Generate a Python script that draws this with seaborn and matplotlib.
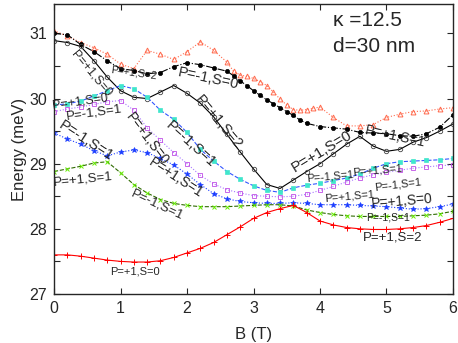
import numpy as np
import pandas as pd
import seaborn as sns
import matplotlib.pyplot as plt
from matplotlib.ticker import MultipleLocator

# magnetic field grid (T)
b_grid = [0.0, 0.2, 0.4, 0.6, 0.8, 1.0, 1.2, 1.4, 1.6, 1.8, 2.0, 2.2, 2.4, 2.6, 2.8, 3.0,
          3.2, 3.4, 3.6, 3.8, 4.0, 4.2, 4.4, 4.6, 4.8, 5.0, 5.2, 5.4, 5.6, 5.8, 6.0]
b_black_fill = [0.0, 0.2, 0.4, 0.6, 0.8, 1.0, 1.2, 1.4, 1.6, 1.8, 2.0, 2.2, 2.4, 2.6, 2.7, 2.8,
                2.9, 3.0, 3.1, 3.2, 3.3, 3.4, 3.5, 3.6, 3.7, 3.8, 4.0, 4.2, 4.4, 4.6, 4.8, 5.0,
                5.2, 5.4, 5.6, 5.8, 6.0]
b_tri = [0.0, 0.2, 0.4, 0.6, 0.8, 1.0, 1.2, 1.4, 1.6, 1.8, 2.0, 2.2, 2.4, 2.6, 2.7, 2.8, 2.9,
         3.0, 3.1, 3.2, 3.3, 3.4, 3.5, 3.6, 3.7, 3.8, 3.9, 4.0, 4.2, 4.4, 4.6, 4.8, 5.0, 5.2,
         5.4, 5.6, 5.8, 6.0]

# energies (meV)
e_red_plus = [27.60, 27.60, 27.58, 27.55, 27.52, 27.50, 27.49, 27.49, 27.51, 27.56, 27.63,
              27.70, 27.79, 27.91, 28.03, 28.16, 28.25, 28.31, 28.36, 28.25, 28.12, 28.06,
              28.02, 28.00, 27.99, 27.99, 28.00, 28.02, 28.05, 28.10, 28.16]
e_green_x = [28.88, 28.92, 28.96, 29.01, 29.03, 28.86, 28.68, 28.55, 28.45, 28.39, 28.36,
             28.34, 28.34, 28.34, 28.35, 28.36, 28.37, 28.37, 28.35, 28.29, 28.25, 28.22,
             28.20, 28.19, 28.19, 28.19, 28.19, 28.20, 28.21, 28.23, 28.27]
e_blue_star = [29.47, 29.38, 29.30, 29.20, 29.12, 29.18, 29.21, 29.17, 29.08, 28.98, 28.84,
               28.68, 28.54, 28.46, 28.42, 28.40, 28.39, 28.39, 28.40, 28.39, 28.37, 28.37,
               28.37, 28.36, 28.35, 28.34, 28.32, 28.30, 28.31, 28.34, 28.38]
e_violet_sq = [29.80, 29.84, 29.87, 29.91, 29.95, 29.97, 29.82, 29.55, 29.36, 29.17, 29.00,
               28.82, 28.69, 28.60, 28.55, 28.51, 28.50, 28.49, 28.50, 28.53, 28.59, 28.65,
               28.72, 28.78, 28.83, 28.87, 28.90, 28.93, 28.95, 28.97, 28.98]
e_cyan_sq = [29.90, 29.92, 29.96, 30.04, 30.12, 30.20, 30.15, 30.02, 29.82, 29.68, 29.48,
             29.22, 29.04, 28.88, 28.76, 28.66, 28.59, 28.56, 28.63, 28.67, 28.70, 28.74,
             28.78, 28.84, 28.93, 29.00, 29.03, 29.04, 29.05, 29.06, 29.08]
e_black_open = [30.89, 30.86, 30.80, 30.58, 30.33, 30.12, 30.02, 30.00, 30.10, 30.20, 30.08,
                29.93, 29.72, 29.45, 29.18, 28.92, 28.68, 28.62, 28.75, 28.88, 29.00, 29.15,
                29.30, 29.42, 29.27, 29.19, 29.22, 29.33, 29.40, 29.50, 29.61]
e_black_fill = [31.00, 30.98, 30.83, 30.72, 30.58, 30.46, 30.43, 30.38, 30.40, 30.49, 30.55,
                30.52, 30.47, 30.42, 30.35, 30.27, 30.20, 30.12, 30.05, 29.98, 29.92, 29.86,
                29.80, 29.74, 29.67, 29.62, 29.57, 29.55, 29.53, 29.48, 29.47, 29.46, 29.43,
                29.42, 29.46, 29.56, 29.75]
e_tri = [31.04, 30.96, 30.86, 30.78, 30.68, 30.53, 30.46, 30.74, 30.68, 30.60, 30.72, 30.87,
         30.74, 30.56, 30.42, 30.36, 30.34, 30.31, 30.26, 30.20, 30.10, 29.99, 29.90, 29.83,
         29.82, 29.83, 29.85, 29.87, 29.71, 29.58, 29.58, 29.60, 29.71, 29.76, 29.80, 29.81,
         29.84, 29.86]

state_labels = ["P=+1,S=0", "P=+1,S=2", "P=-1,S=0", "P=+1,S=0", "P=-1,S=1", "P=+1,S=0",
                "P=-1,S=1", "P=+1,S=1", "P=-1,S=1", "P=+1,S=1", "P=-1,S=1", "P=+1,S=2",
                "P=+1,S=0", "P=+1,S=1", "P=-1,S=1", "P=+1,S=1", "P=+1,S=1", "P=-1,S=1",
                "P=+1,S=0", "P=-1,S=1", "P=+1,S=2", "P=+1,S=0"]

sns.set_style("ticks")
plt.rcParams['font.family'] = ['Liberation Sans', 'DejaVu Sans']

fig = plt.figure(figsize=(4.58, 3.43), dpi=100)
ax = fig.add_axes([0.118, 0.143, 0.871, 0.845])

lw = 0.8
sns.lineplot(x=b_tri, y=e_tri, ax=ax, color='#ff6a4d', linestyle=':', lw=lw,
             marker='^', ms=3.5, mfc='none', mec='#ff6a4d', mew=0.7)
sns.lineplot(x=b_black_fill, y=e_black_fill, ax=ax, color='black', linestyle='-.', lw=lw,
             marker='o', ms=3, mfc='black', mec='black', mew=0.5)
sns.lineplot(x=b_grid, y=e_black_open, ax=ax, color='black', linestyle='-', lw=lw,
             marker='o', ms=3.2, mfc='none', mec='#444444', mew=0.6)
sns.lineplot(x=b_grid, y=e_cyan_sq, ax=ax, color='#3355ff', linestyle='--', lw=lw,
             marker='s', ms=3.3, mfc='#40e6cc', mec='#40e6cc', mew=0.5)
sns.lineplot(x=b_grid, y=e_violet_sq, ax=ax, color='#a877ff', linestyle=':', lw=lw,
             marker='s', ms=3.3, mfc='none', mec='#c04de6', mew=0.6)
sns.lineplot(x=b_grid, y=e_blue_star, ax=ax, color='#1a3cff', linestyle=':', lw=lw,
             marker='*', ms=4, mfc='#1a3cff', mec='#1a3cff', mew=0.4)
sns.lineplot(x=b_grid, y=e_green_x, ax=ax, color='#2f6b00', linestyle='--', lw=lw,
             marker='x', ms=3.5, mfc='#66ee00', mec='#66ee00', mew=0.7)
sns.lineplot(x=b_grid, y=e_red_plus, ax=ax, color='#ff0000', linestyle='-', lw=lw,
             marker='+', ms=4.5, mfc='#ff0000', mec='#ff0000', mew=0.7)

# state annotations: (x, y, rotation, size)
label_pos = [(0.57, 30.38, -50, 9), (1.20, 30.40, -8, 7.5), (2.32, 30.30, -12, 10.5),
             (0.39, 29.95, 8, 9), (0.60, 29.78, 8, 9.5), (1.40, 29.38, -53, 10),
             (0.48, 29.35, -33, 10.5), (0.44, 28.76, 6, 9.5), (1.56, 28.37, -25, 9.5),
             (1.83, 28.79, -33, 10), (2.05, 29.30, -42, 10.5), (2.47, 29.64, -50, 10.5),
             (4.03, 29.19, 31, 11), (5.13, 29.42, -12, 10), (4.15, 28.80, 5, 8),
             (4.86, 28.90, 5, 8), (4.44, 28.50, 5, 8), (5.17, 28.68, 7, 8),
             (5.23, 28.42, 5, 10), (5.02, 28.17, 0, 7.5), (5.10, 27.86, 0, 9.5),
             (1.22, 27.34, 0, 8)]
for txt, (x, y, rot, fs) in zip(state_labels, label_pos):
    ax.text(x, y, txt, rotation=rot, fontsize=fs, ha='center', va='center',
            rotation_mode='anchor')

ax.text(0.70, 0.945, "\u03ba =12.5", transform=ax.transAxes, fontsize=15, ha='left', va='center')
ax.text(0.70, 0.855, "d=30 nm", transform=ax.transAxes, fontsize=15, ha='left', va='center')

ax.set_xlim(0, 6)
ax.set_ylim(27, 31.45)
ax.xaxis.set_major_locator(MultipleLocator(1))
ax.yaxis.set_major_locator(MultipleLocator(1))
ax.yaxis.set_minor_locator(MultipleLocator(0.5))
ax.tick_params(which='both', direction='in', top=True, right=True, labelsize=11.5)
ax.tick_params(which='major', length=4, width=0.8, pad=5)
ax.tick_params(which='minor', length=4, width=0.8)
for s in ax.spines.values():
    s.set_linewidth(1.0)
ax.set_xlabel("B (T)", fontsize=12, labelpad=8)
ax.set_ylabel("Energy (meV)", fontsize=12, labelpad=2)

fig.savefig("out.png", dpi=100)
